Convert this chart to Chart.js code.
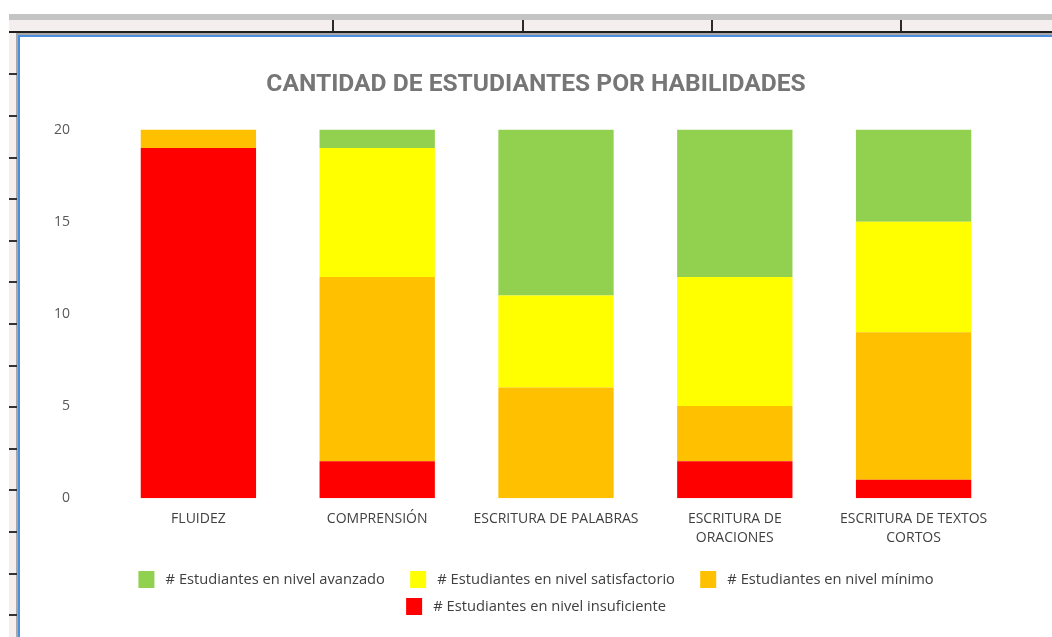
<!DOCTYPE html>
<html lang="es">
<head>
<meta charset="utf-8">
<title>Cantidad de estudiantes por habilidades</title>
<script src="https://cdn.jsdelivr.net/npm/chart.js@4/dist/chart.umd.min.js"></script>
<style>
  html, body { margin: 0; padding: 0; background: #fff; }
  body { width: 1052px; height: 637px; position: relative; overflow: hidden; }
  .abs { position: absolute; }
  #topBand  { left: 9px; top: 14px; width: 1043px; height: 6px; background: #c4c4c4; }
  #ruler    { left: 9px; top: 20px; width: 1043px; height: 11px; background: #f5eeee; }
  #rulerLn  { left: 9px; top: 31px; width: 1043px; height: 2px; background: #1e1e1e; }
  #rulerSh  { left: 9px; top: 33px; width: 1043px; height: 2px; background: #a8a8a8; }
  #sideRuler{ left: 9px; top: 33px; width: 8px; height: 604px; background: #f5eeee; }
  #sideSh   { left: 16px; top: 33px; width: 2px; height: 604px; background: #a8a8a8; }
  #blueTop  { left: 18px; top: 35px; width: 1034px; height: 2px; background: #4a8fe0; }
  #blueLeft { left: 18px; top: 35px; width: 2px; height: 602px; background: #4a8fe0; }
  .vtick { width: 2px; height: 11px; top: 20px; background: #2a2a2a; }
  .htick { width: 8px; height: 2px; left: 9px; background: #333; }
  #wrap { left: 20px; top: 37px; width: 1032px; height: 600px; }
</style>
</head>
<body>
<div class="abs" id="topBand"></div>
<div class="abs" id="ruler"></div>
<div class="abs" id="rulerLn"></div>
<div class="abs" id="rulerSh"></div>
<div class="abs" id="sideRuler"></div>
<div class="abs" id="sideSh"></div>
<div class="abs" id="blueTop"></div>
<div class="abs" id="blueLeft"></div>
<div class="abs" id="wrap"><canvas id="chart" width="1032" height="600"></canvas></div>

<script>
'use strict';

// ── Data ────────────────────────────────────────────────────────────────
const categories = [
    'FLUIDEZ',
    'COMPRENSIÓN',
    'ESCRITURA DE PALABRAS',
    ['ESCRITURA DE', 'ORACIONES'],
    ['ESCRITURA DE TEXTOS', 'CORTOS']
];
const insuficiente  = [19, 2, 0, 2, 1];
const minimo        = [1, 10, 6, 3, 8];
const satisfactorio = [0, 7, 5, 7, 6];
const avanzado      = [0, 1, 9, 8, 5];
const yTicks = [0, 5, 10, 15, 20];

const FONT = "'Open Sans', sans-serif";
const TITLE_FONT = "Roboto, 'Open Sans', sans-serif";

// ── Window frame (spreadsheet ruler decorations) ─────────────────────────
[333, 523, 712, 901].forEach(x => {
    const d = document.createElement('div');
    d.className = 'abs vtick';
    d.style.left = (x - 1) + 'px';
    document.body.appendChild(d);
});
for (let y = 73.4; y < 637; y += 41.6) {
    const d = document.createElement('div');
    d.className = 'abs htick';
    d.style.top = Math.round(y) + 'px';
    document.body.appendChild(d);
}

// ── Chart ───────────────────────────────────────────────────────────────
const ds = (label, data, color) => ({
    label, data,
    backgroundColor: color,
    borderWidth: 0,
    categoryPercentage: 1,
    barPercentage: 0.645,
    yAxisID: 'y'
});

// legend lists top series first (like Excel); pad text to widen the gaps
function legendLabels(chart) {
    const items = Chart.defaults.plugins.legend.labels.generateLabels(chart).reverse();
    items.forEach((it, i) => {
        it.text = ' ' + it.text + (i < 2 ? '    ' : '');
    });
    return items;
}

new Chart(document.getElementById('chart').getContext('2d'), {
    type: 'bar',
    data: {
        labels: categories,
        datasets: [
            ds('# Estudiantes en nivel insuficiente',  insuficiente,  '#ff0000'),
            ds('# Estudiantes en nivel mínimo',        minimo,        '#ffc000'),
            ds('# Estudiantes en nivel satisfactorio', satisfactorio, '#ffff00'),
            ds('# Estudiantes en nivel avanzado',      avanzado,      '#92d050')
        ]
    },
    options: {
        responsive: false,
        animation: false,
        layout: { padding: { left: 0, right: 0, top: 0, bottom: 12 } },
        plugins: {
            title: {
                display: true,
                text: 'CANTIDAD DE ESTUDIANTES POR HABILIDADES',
                color: '#767676',
                font: { family: TITLE_FONT, size: 24.6, weight: 'bold' },
                padding: { top: 33, bottom: 30 }
            },
            legend: {
                position: 'bottom',
                maxWidth: 880,
                labels: {
                    color: '#404040',
                    font: { family: FONT, size: 14.7 },
                    boxWidth: 16,
                    boxHeight: 17,
                    padding: 10,
                    generateLabels: legendLabels
                }
            },
            tooltip: { enabled: false }
        },
        scales: {
            x: {
                stacked: true,
                grid: { display: false },
                border: { display: false },
                afterFit: s => { s.height += 11; },
                ticks: {
                    color: '#404040',
                    font: { family: FONT, size: 14, lineHeight: 1.35 },
                    maxRotation: 0,
                    autoSkip: false,
                    padding: 3
                }
            },
            y: {
                stacked: true,
                min: 0,
                max: 20,
                grid: { display: false },
                border: { display: false },
                afterBuildTicks: s => { s.ticks = yTicks.map(v => ({ value: v })); },
                afterFit: s => { s.width = 89; },
                ticks: {
                    color: '#595959',
                    font: { family: FONT, size: 14 },
                    padding: 31
                }
            },
            // empty right-hand margin so the title and legend stay centred on the canvas
            yRight: {
                position: 'right',
                min: 0,
                max: 20,
                grid: { display: false },
                border: { display: false },
                ticks: { display: false },
                afterFit: s => { s.width = 49; }
            }
        }
    }
});
</script>
</body>
</html>
